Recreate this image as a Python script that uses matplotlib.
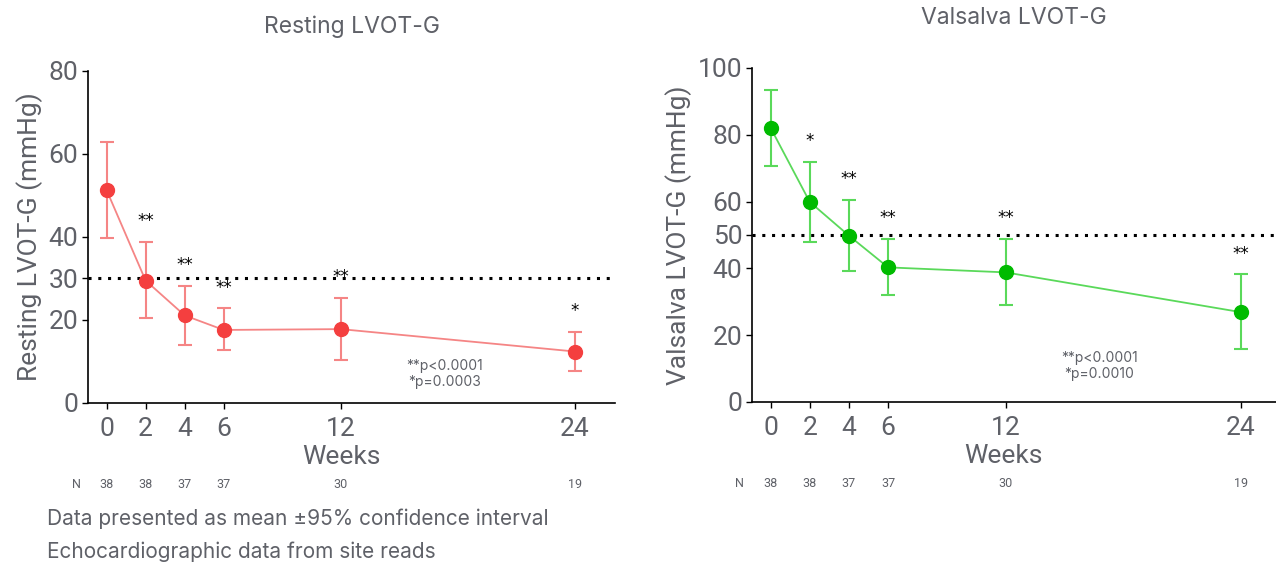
import matplotlib
matplotlib.use('Agg')
from matplotlib import pyplot as plt

plt.rcParams['font.family'] = ['Inter', 'DejaVu Sans']

weeks = [0, 2, 4, 6, 12, 24]
n_rest = [38, 38, 37, 37, 30, 19]
n_vals = [38, 38, 37, 37, 30, 19]

rest_mean = [51.3, 29.5, 21.1, 17.6, 17.8, 12.4]
rest_upper = [62.9, 38.8, 28.3, 22.8, 25.4, 17.1]
rest_lower = [39.8, 20.4, 14.0, 12.8, 10.4, 7.8]
rest_stars = ['', '**', '**', '**', '**', '*']

vals_mean = [82.1, 59.9, 49.8, 40.3, 38.8, 26.9]
vals_upper = [93.5, 71.9, 60.6, 48.8, 48.8, 38.2]
vals_lower = [70.7, 48.0, 39.1, 32.0, 29.0, 15.8]
vals_stars = ['', '*', '**', '**', '**', '**']

GREY = '#5f6168'
TICK_FONT = ['Roboto', 'DejaVu Sans']


def draw_panel(ax, mean, upper, lower, stars, ns, ref, ylim, yticks, xmax,
               marker_color, line_color, title, title_pad, ylabel, ptext,
               ptext_xy, n_x):
    yerr = [[m - lo for m, lo in zip(mean, lower)],
            [up - m for m, up in zip(mean, upper)]]
    ax.plot(weeks, mean, color=line_color, lw=1.3, zorder=2)
    ax.errorbar(weeks, mean, yerr=yerr, fmt='none', ecolor=line_color,
                elinewidth=1.5, capsize=4.7, capthick=1.5, zorder=2)
    ax.plot(weeks, mean, 'o', color=marker_color, ms=10, zorder=3)
    ax.axhline(ref, color='black', ls=(0, (1, 2.2)), lw=2.2, zorder=1)
    span = ylim[1] - ylim[0]
    for w, up, s in zip(weeks, upper, stars):
        if s:
            ax.text(w, up + span * 0.035, s, ha='center', va='bottom',
                    fontsize=12, color='black', family='DejaVu Sans')

    ax.set_xlim(-0.95, xmax)
    ax.set_ylim(*ylim)
    ax.set_xticks(weeks)
    ax.set_yticks(yticks)
    ax.tick_params(axis='y', length=4, width=1, colors='black',
                   labelcolor=GREY, labelsize=19, pad=3)
    ax.tick_params(axis='x', length=4, width=1, colors='black',
                   labelcolor=GREY, labelsize=19, pad=6)
    for lab in ax.get_xticklabels() + ax.get_yticklabels():
        lab.set_family(TICK_FONT)
    for side in ('top', 'right'):
        ax.spines[side].set_visible(False)
    for side in ('left', 'bottom'):
        ax.spines[side].set_linewidth(1.2)
    ax.set_title(title, fontsize=16.5, color=GREY, pad=title_pad)
    ax.set_ylabel(ylabel, fontsize=19, color=GREY, labelpad=4,
                  family=TICK_FONT)
    ax.set_xlabel('Weeks', fontsize=19, color=GREY, fontweight='normal',
                  labelpad=3, family=TICK_FONT)
    ax.xaxis.label.set_x(0.48)

    trans = ax.get_xaxis_transform()
    ax.text(n_x, -0.245, 'N', transform=trans, ha='center', va='center',
            fontsize=9, color=GREY, family=TICK_FONT)
    for w, n in zip(weeks, ns):
        ax.text(w, -0.245, str(n), transform=trans, ha='center', va='center',
                fontsize=9, color=GREY, family=TICK_FONT)
    ax.text(ptext_xy[0], ptext_xy[1], ptext, ha='center', va='center',
            fontsize=10, color=GREY, linespacing=1.2)


fig = plt.figure(figsize=(12.76, 5.66), dpi=100)
ax_rest = fig.add_axes([0.0690, 0.288, 0.4130, 0.5866])
ax_vals = fig.add_axes([0.5893, 0.2898, 0.4107, 0.5901])

draw_panel(ax_rest, rest_mean, rest_upper, rest_lower, rest_stars, n_rest,
           30, (0, 80), [0, 20, 30, 40, 60, 80], 26.05,
           '#f43f3f', '#f58585', 'Resting LVOT-G', 27, 'Resting LVOT-G (mmHg)',
           '**p<0.0001\n*p=0.0003', (17.3, 7.0), -1.55)
draw_panel(ax_vals, vals_mean, vals_upper, vals_lower, vals_stars, n_vals,
           50, (0, 100), [0, 20, 40, 50, 60, 80, 100], 25.8,
           '#00bb00', '#5ad95a', 'Valsalva LVOT-G', 32, 'Valsalva LVOT-G (mmHg)',
           '**p<0.0001\n*p=0.0010', (16.8, 10.8), -1.6)

fig.text(0.037, 0.083, 'Data presented as mean \u00b195% confidence interval',
         fontsize=15, color=GREY, va='center')
fig.text(0.037, 0.025, 'Echocardiographic data from site reads',
         fontsize=15, color=GREY, va='center')

fig.savefig('out.png', dpi=100)
